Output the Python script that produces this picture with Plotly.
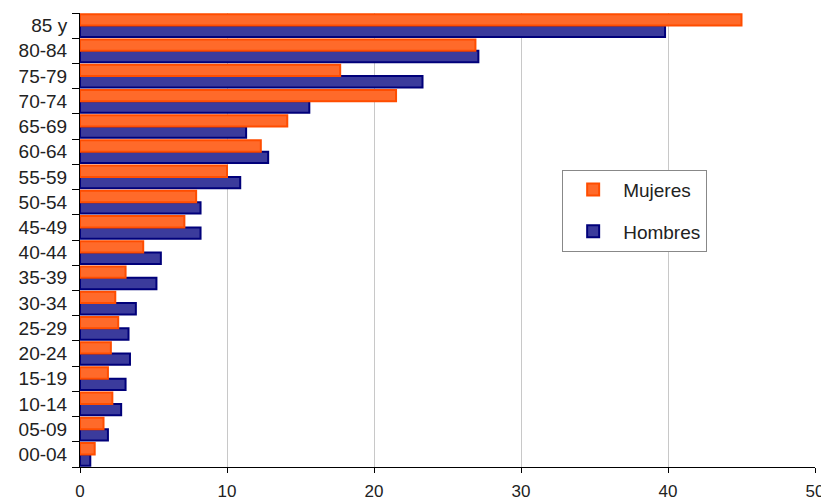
import plotly.graph_objects as go

grupos = ['00-04', '05-09', '10-14', '15-19', '20-24', '25-29', '30-34', '35-39', '40-44',
          '45-49', '50-54', '55-59', '60-64', '65-69', '70-74', '75-79', '80-84', '85 y']
mujeres = [1.0, 1.6, 2.2, 1.9, 2.1, 2.6, 2.4, 3.1, 4.3,
           7.1, 7.9, 10.0, 12.3, 14.1, 21.5, 17.7, 26.9, 45.0]
hombres = [0.7, 1.9, 2.8, 3.1, 3.4, 3.3, 3.8, 5.2, 5.5,
           8.2, 8.2, 10.9, 12.8, 11.3, 15.6, 23.3, 27.1, 39.8]

fig = go.Figure()

# Hombres first so Mujeres sits above it inside each group
fig.add_trace(go.Bar(
    name='Hombres', y=grupos, x=hombres, orientation='h',
    marker=dict(color='#3b3b9c', line=dict(color='#00007a', width=2)),
    legendgroup='h', legendrank=2
))
fig.add_trace(go.Bar(
    name='Mujeres', y=grupos, x=mujeres, orientation='h',
    marker=dict(color='#ff6a2a', line=dict(color='#ff4d00', width=2)),
    legendgroup='m', legendrank=1
))

# page body has an 8px margin, so the figure is sized/offset to compensate
fig.update_layout(
    width=821, height=496,
    margin=dict(l=72, r=14, t=5, b=37),
    paper_bgcolor='white', plot_bgcolor='white',
    barmode='group', bargap=0.1, bargroupgap=0,
    font=dict(family='Liberation Sans, Arial', size=17, color='#222'),
    legend=dict(
        x=0.656, y=0.655, xanchor='left', yanchor='top',
        bgcolor='white', bordercolor='#888', borderwidth=1,
        font=dict(size=19), traceorder='grouped', tracegroupgap=14,
        itemwidth=50
    ),
    xaxis=dict(
        range=[0, 50], dtick=10, showgrid=True, gridcolor='#c8c8c8',
        showline=True, linecolor='black', linewidth=1,
        ticks='outside', ticklen=5, tickcolor='black', zeroline=False,
        automargin=False, tickfont=dict(size=17), ticklabeloverflow='allow',
        ticklabelstandoff=4
    ),
    yaxis=dict(
        type='category', categoryorder='array', categoryarray=grupos,
        showline=True, linecolor='black', linewidth=1, showgrid=False,
        ticks='outside', ticklen=7, tickcolor='black', tickson='boundaries',
        automargin=False, tickfont=dict(size=19), ticklabelstandoff=8
    ),
)

fig.write_html('out.html')
